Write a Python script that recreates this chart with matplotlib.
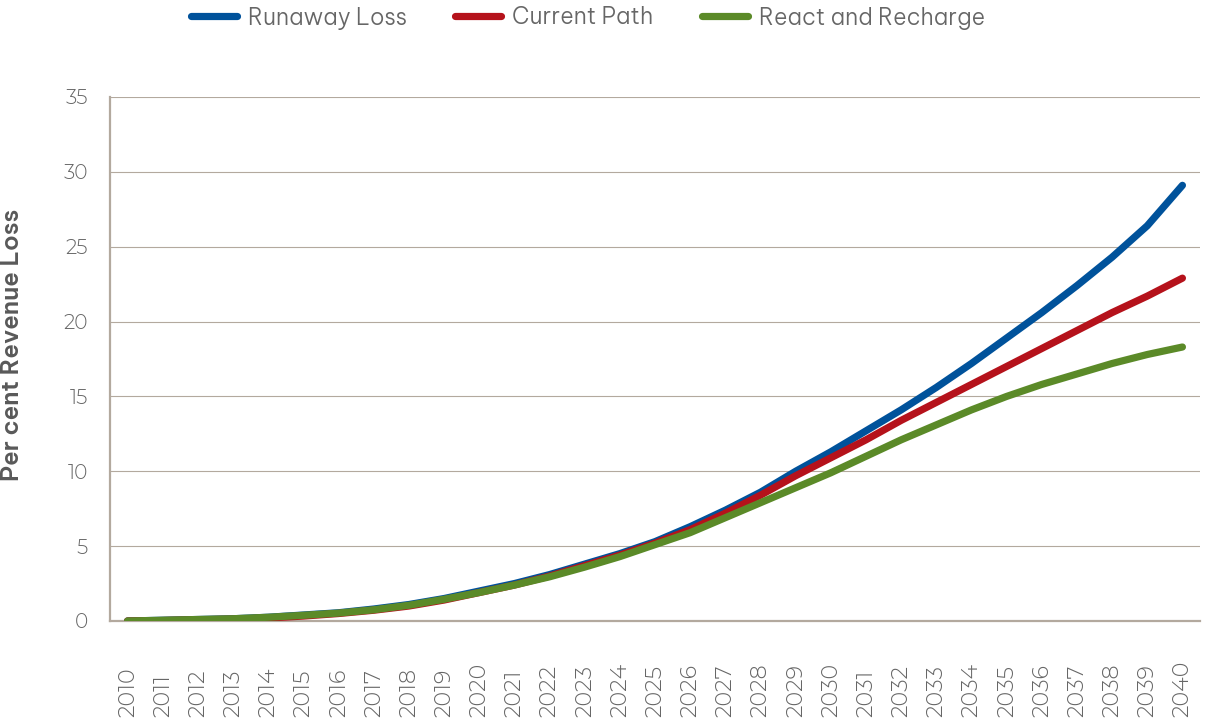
import matplotlib
matplotlib.use("Agg")
import matplotlib.pyplot as plt
from matplotlib import font_manager

years = list(range(2010, 2041))
year_labels = [str(y) for y in years]

runaway_loss = [0.0, 0.05, 0.1, 0.15, 0.25, 0.4, 0.55, 0.8, 1.1, 1.5, 2.0, 2.5, 3.1, 3.8, 4.5,
                5.3, 6.3, 7.4, 8.6, 10.0, 11.3, 12.7, 14.1, 15.6, 17.2, 18.9, 20.6, 22.4, 24.3, 26.4, 29.1]
current_path = [0.0, 0.03, 0.08, 0.12, 0.2, 0.33, 0.5, 0.72, 1.0, 1.4, 1.9, 2.4, 3.0, 3.7, 4.4,
                5.2, 6.1, 7.2, 8.4, 9.7, 10.9, 12.1, 13.4, 14.6, 15.8, 17.0, 18.2, 19.4, 20.6, 21.7, 22.9]
react_recharge = [0.0, 0.05, 0.1, 0.15, 0.25, 0.38, 0.53, 0.75, 1.05, 1.45, 1.9, 2.4, 2.95, 3.6, 4.3,
                  5.1, 5.9, 6.9, 7.9, 8.9, 9.9, 11.0, 12.1, 13.1, 14.1, 15.0, 15.8, 16.5, 17.2, 17.8, 18.3]

series_names = ["Runaway Loss", "Current Path", "React and Recharge"]
colors = ["#00529b", "#b5121b", "#5b8a28"]

names = {f.name for f in font_manager.fontManager.ttflist}
digit_fam = ["Montserrat Alternates", "DejaVu Sans"] if "Montserrat Alternates" in names else ["DejaVu Sans"]
text_fam = ["Be Vietnam Pro", "DejaVu Sans"] if "Be Vietnam Pro" in names else ["DejaVu Sans"]
plt.rcParams["font.family"] = text_fam

grid_c = "#b3a99e"
text_c = "#666666"

fig = plt.figure(figsize=(12.08, 7.26), dpi=100)
ax = fig.add_axes([110/1208, 1-621/726, 1090/1208, 524/726])

x = list(range(len(years)))
for vals, name, c in zip([runaway_loss, current_path, react_recharge], series_names, colors):
    ax.plot(x, vals, color=c, lw=5.2, solid_capstyle="round", solid_joinstyle="round", label=name, zorder=3)

ax.set_xlim(-0.5, len(years) - 0.5)
ax.set_ylim(0, 35)
ax.set_yticks(range(0, 36, 5))
ax.yaxis.grid(True, color=grid_c, lw=0.8)
ax.set_axisbelow(True)
for s in ["top", "right"]:
    ax.spines[s].set_visible(False)
for s in ["left", "bottom"]:
    ax.spines[s].set_color(grid_c)
    ax.spines[s].set_linewidth(1.6)

ax.set_xticks(x)
ax.set_xticklabels(year_labels, rotation=90, va="bottom", ha="center",
                   fontsize=16, color=text_c, fontweight=300, family=digit_fam)
ax.tick_params(axis="x", length=0, pad=69)
ax.tick_params(axis="y", length=0, pad=16, labelsize=14.5, labelcolor=text_c)
for t in ax.get_yticklabels():
    t.set_fontweight(300)
    t.set_family(digit_fam)

ax.set_ylabel("Per cent Revenue Loss", fontsize=17.5, fontweight=600, color="#595959")
ax.yaxis.set_label_coords(-0.079, 0.527)

leg = fig.legend(loc="center", bbox_to_anchor=(588/1208, 1-18/726), ncol=3, frameon=False,
                 fontsize=16.5, handlelength=2.0, columnspacing=2.1, handletextpad=0.5,
                 labelcolor=text_c)
for t in leg.get_texts():
    t.set_fontweight(300)

fig.savefig("out.png", dpi=100)
